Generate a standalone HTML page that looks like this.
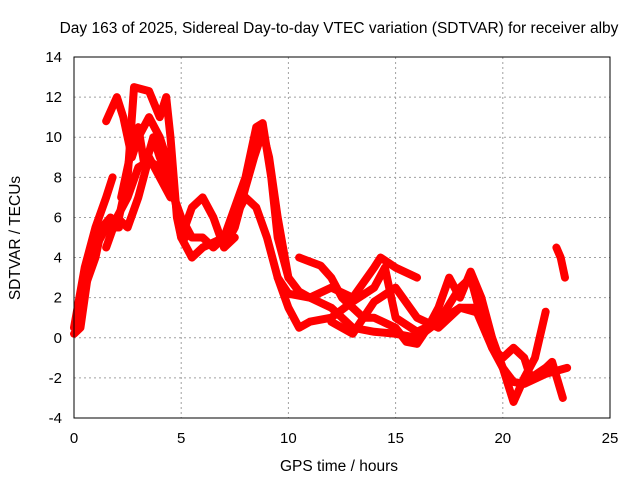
<!DOCTYPE html>
<html><head><meta charset="utf-8"><style>
body{margin:0;background:#fff;}
svg{display:block;font-family:"Liberation Sans",sans-serif;}
</style></head><body>
<svg id="chart" width="640" height="480">
<rect width="640" height="480" fill="#fff"/>
<text x="339" y="33" font-size="15.5" text-anchor="middle">Day 163 of 2025, Sidereal Day-to-day VTEC variation (SDTVAR) for receiver alby</text>
<text x="339" y="471" font-size="15.5" text-anchor="middle">GPS time / hours</text>
<text x="20" y="238" font-size="15.5" text-anchor="middle" transform="rotate(-90 20 238)">SDTVAR / TECUs</text>
<g id="grid"></g>
<g id="series"></g>
<rect x="74" y="57" width="536" height="361" fill="none" stroke="#000" stroke-width="1"/>
<g id="ticks"></g>
</svg>
<script>
const xTicks=[0,5,10,15,20,25];
const yTicks=[-4,-2,0,2,4,6,8,10,12,14];
const s1h=[0,0.3,0.7,1.0,1.5,2,2.5,3,3.5,4,4.5,5,5.5,6,6.5,7,7.5,8,8.5,9,9.5,10,11,12,13,14,15,16,17,18,18.7,19.5,20,20.5,21,22,23];
const s1v=[0.2,0.5,3.5,4.5,5.5,6,7,8.5,8.8,8.5,7.5,6,5,5,4.5,5,6,7,6.5,5,3,2.2,2,1.5,0.5,0.3,0.2,0,0.8,1.5,1.5,-0.5,-1.5,-2.2,-2.3,-1.8,-1.5];
const s2h=[0,0.5,1,1.5,1.8];
const s2v=[0.5,3.5,5.5,7,8];
const s3h=[1.5,2,2.3,2.7,3,3.5,4,4.3,4.7,5,5.5,6,7,8,8.5,8.8,9.2,9.5,10,10.5,11,12,13,14,14.3,15,16];
const s3v=[10.8,12,11,9,10,11,10,9,7,5,4,4.5,5,8,10.5,10.7,8,5,3,2.3,2,2.5,2,3.5,4,3.5,3];
const s4h=[2,2.5,2.8,3.5,4,4.3,4.5,4.8,5,5.5,6,6.5,7,7.5];
const s4v=[5.5,8,12.5,12.3,11,12,10,6,5,6.5,7,6,4.5,5];
const s5h=[10.5,11,11.5,12,12.5,13,13.5,14,15,15.5,16,16.5,17,17.5,18,18.5,19,19.5,20,20.5,21,21.5,22];
const s5v=[4,3.8,3.6,3,2,1.5,1,1,0.5,-0.2,-0.3,0.5,1.5,3,2,3.3,2,0,-1.5,-3.2,-2,-1,1.3];
const s6h=[9.5,10,10.5,11,12,13,14,14.5,15,16,17,18,18.5,19,19.5,20,20.5,21,21.3,22,22.3,22.8];
const s6v=[3,1.5,0.5,0.8,1,1.8,2.5,3.5,1,0.3,0.8,2.5,3,1,-0.5,-1,-0.5,-1,-2,-1.5,-1.2,-3];
const s7h=[22.5,22.7,22.9];
const s7v=[4.5,4,3];
const s8h=[1.5,2,2.5,3,3.5,4,4.5];
const s8v=[4.5,6,5.5,7,9,8,7];
const s9h=[12,13,14,15,16,17,18,19];
const s9v=[0.8,0.2,1.8,2.5,1,0.5,1.5,1.2];
const s10h=[2.2,2.6,3,3.3,3.7,4,4.4,4.8,5.2];
const s10v=[7,9,10.5,8.5,10,9,8,6.5,5];
const s11h=[7,7.5,8,8.4,8.8,9.1,9.5,10];
const s11v=[4.5,5.5,7.5,9,10.3,9,6,3];
const s12h=[0.5,1,1.3,1.7,2.1];
const s12v=[2.5,4,5.5,6,5.5];
const X=h=>74+h*536/25, Y=v=>418-(v+4)*361/18;
const ns="http://www.w3.org/2000/svg";
const grid=document.getElementById('grid'),ticks=document.getElementById('ticks'),ser=document.getElementById('series');
xTicks.forEach(t=>{
 if(t>0&&t<25){const l=document.createElementNS(ns,'line');
 
 
 l.setAttribute('x1',X(t));l.setAttribute('x2',X(t));l.setAttribute('y1',57);l.setAttribute('y2',418);
 l.setAttribute('stroke','#a0a0a0');l.setAttribute('stroke-dasharray','2,3');grid.appendChild(l);}
 const tx=document.createElementNS(ns,'text');
 
 
 tx.setAttribute('x',X(t));tx.setAttribute('y',443);tx.setAttribute('font-size','15');tx.setAttribute('text-anchor','middle');tx.textContent=t;ticks.appendChild(tx);
});
yTicks.forEach(t=>{
 if(t>-4&&t<14){const l=document.createElementNS(ns,'line');
 
 
 l.setAttribute('x1',74);l.setAttribute('x2',610);l.setAttribute('y1',Y(t));l.setAttribute('y2',Y(t));
 l.setAttribute('stroke','#a0a0a0');l.setAttribute('stroke-dasharray','2,3');grid.appendChild(l);}
 const tx=document.createElementNS(ns,'text');
 
 
 tx.setAttribute('x',62);tx.setAttribute('y',Y(t)+5);tx.setAttribute('font-size','15');tx.setAttribute('text-anchor','end');tx.textContent=t;ticks.appendChild(tx);
});
[[s1h,s1v],[s2h,s2v],[s3h,s3v],[s4h,s4v],[s5h,s5v],[s6h,s6v],[s7h,s7v],[s8h,s8v],[s9h,s9v],[s10h,s10v],[s11h,s11v],[s12h,s12v]].forEach(([h,v],i)=>{
 const p=document.createElementNS(ns,'polyline');
 
 
 p.setAttribute('points',h.map((x,j)=>X(x)+','+Y(v[j])).join(' '));
 p.setAttribute('fill','none');p.setAttribute('stroke','#ff0000');p.setAttribute('stroke-width','8');
 p.setAttribute('stroke-linejoin','round');p.setAttribute('stroke-linecap','round');
 ser.appendChild(p);
});
</script>
</body></html>
